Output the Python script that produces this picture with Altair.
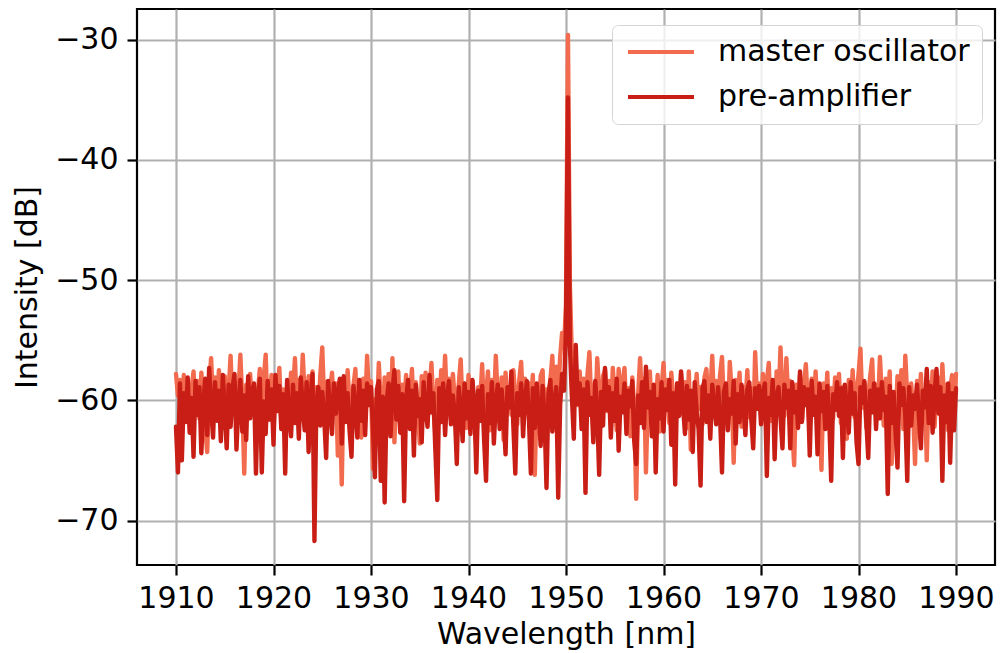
import altair as alt
import pandas as pd

# ---- data (0.2 nm sampling from 1910 to 1990 nm) ----
START_NM = 1910.0
STEP_NM = 0.2

master_oscillator = [
    -57.8, -59.6, -58.3, -61.2, -57.9, -60.4, -58.6, -62.1, -59.0, -57.6, -60.8, -58.4, -61.5, -57.7, -59.9, -62.4, -64.3, -58.8, -56.5, -60.2,
    -58.1, -61.0, -57.5, -59.7, -62.3, -58.0, -60.6, -59.2, -56.3, -60.9, -58.5, -61.8, -59.4, -56.2, -60.1, -66.1, -58.7, -61.4, -57.8, -60.3,
    -58.9, -62.0, -59.3, -57.4, -60.7, -58.2, -56.2, -61.3, -59.8, -57.9, -62.6, -58.6, -60.2, -57.3, -61.7, -59.1, -63.0, -58.4, -60.5, -57.7,
    -59.5, -56.5, -61.1, -58.3, -60.4, -56.2, -59.7, -62.2, -58.0, -60.8, -57.6, -63.4, -58.9, -61.2, -57.9, -55.6, -60.3, -58.5, -62.0, -59.2,
    -57.7, -60.9, -58.6, -64.6, -59.4, -67.0, -58.1, -61.5, -57.5, -60.2, -62.8, -58.8, -57.4, -61.6, -59.3, -63.1, -58.2, -60.7, -56.3, -59.8,
    -58.4, -65.7, -59.9, -61.4, -56.9, -60.3, -62.7, -58.1, -60.9, -57.8, -61.9, -56.5, -63.5, -59.0, -57.6, -62.4, -58.7, -60.6, -57.9, -61.3,
    -59.6, -57.4, -62.1, -58.5, -60.8, -63.6, -58.0, -60.4, -57.7, -61.8, -59.2, -56.9, -60.6, -62.9, -58.3, -61.0, -57.5, -59.9, -56.3, -60.7,
    -58.2, -61.6, -57.8, -60.1, -63.2, -58.7, -56.6, -60.9, -59.1, -62.3, -57.9, -60.5, -58.4, -61.7, -64.0, -58.9, -60.2, -57.0, -61.4, -59.5,
    -57.6, -62.5, -58.3, -60.7, -56.3, -59.8, -61.9, -58.1, -63.3, -57.7, -60.4, -58.9, -61.2, -57.5, -59.6, -62.0, -58.4, -56.8, -60.6, -58.2,
    -61.0, -58.6, -60.3, -57.9, -66.2, -59.4, -61.7, -58.0, -57.5, -62.4, -59.1, -60.8, -58.3, -56.3, -61.2, -57.2, -59.6, -56.4, -54.4, -55.6,
    -52.0, -29.6, -50.5, -56.2, -58.9, -56.8, -60.4, -57.6, -61.3, -58.2, -63.1, -57.9, -56.0, -60.6, -58.7, -61.8, -56.5, -59.3, -62.2, -58.0,
    -57.5, -60.9, -58.4, -61.6, -57.3, -59.8, -62.5, -57.4, -60.2, -58.6, -57.3, -61.4, -59.0, -63.0, -58.1, -60.7, -68.2, -59.5, -56.5, -60.3,
    -58.2, -66.0, -59.7, -57.6, -61.5, -58.8, -60.6, -57.9, -62.6, -59.2, -56.9, -60.4, -58.3, -61.9, -57.7, -60.0, -63.5, -58.6, -61.1, -57.8,
    -60.2, -58.5, -62.3, -57.6, -64.1, -59.3, -61.0, -57.8, -60.7, -58.9, -62.0, -58.1, -57.4, -60.5, -59.6, -56.3, -60.9, -58.4, -61.6, -57.9,
    -56.4, -60.6, -58.7, -61.9, -56.8, -59.5, -65.2, -58.3, -60.8, -57.7, -62.2, -58.9, -60.3, -57.5, -61.4, -59.0, -62.7, -56.0, -60.1, -58.6,
    -61.2, -57.8, -60.4, -58.5, -56.9, -61.7, -59.1, -62.6, -57.6, -60.2, -55.6, -59.8, -61.3, -56.5, -60.0, -58.4, -62.1, -65.4, -58.7, -60.5,
    -57.9, -61.6, -58.8, -57.0, -60.3, -62.4, -58.2, -60.9, -57.6, -61.1, -59.4, -65.8, -58.6, -60.7, -57.7, -62.0, -59.0, -61.5, -58.1, -60.4,
    -57.8, -61.9, -58.9, -60.2, -63.2, -58.3, -60.8, -57.5, -61.4, -59.2, -57.9, -55.7, -60.6, -58.5, -62.3, -59.6, -58.0, -56.6, -61.0, -58.7,
    -60.5, -56.4, -59.8, -62.1, -58.2, -60.9, -57.6, -65.3, -59.4, -61.6, -58.0, -60.3, -57.5, -62.4, -56.3, -59.7, -61.2, -58.6, -60.8, -65.3,
    -58.4, -60.6, -57.8, -61.8, -59.1, -65.0, -58.5, -60.9, -57.6, -62.2, -59.3, -58.1, -61.0, -57.0, -60.4, -58.7, -62.5, -59.0, -57.9, -60.7,
    -57.8,
]

pre_amplifier = [
    -62.2, -66.0, -58.6, -65.0, -59.4, -61.8, -58.1, -62.7, -59.8, -64.7, -58.4, -61.2, -58.9, -64.4, -60.3, -58.2, -62.9, -57.3, -60.6, -63.1,
    -58.5, -61.7, -59.2, -63.4, -57.9, -60.8, -64.0, -58.7, -62.2, -59.0, -57.8, -64.1, -60.4, -58.3, -62.6, -59.6, -63.3, -58.0, -61.5, -59.3,
    -58.6, -66.1, -59.7, -58.2, -66.0, -60.1, -62.8, -58.4, -61.6, -59.1, -63.7, -57.9, -60.9, -58.8, -62.4, -59.5, -66.1, -58.3, -61.3, -63.0,
    -58.7, -61.9, -59.4, -63.2, -58.1, -60.6, -62.5, -58.5, -64.3, -59.8, -57.8, -71.7, -60.2, -58.9, -62.1, -59.3, -61.4, -64.8, -58.4, -60.7,
    -62.8, -58.6, -61.1, -59.5, -58.2, -63.6, -58.0, -61.8, -59.4, -62.5, -64.7, -58.8, -60.5, -63.1, -58.3, -61.7, -59.2, -62.9, -58.6, -60.4,
    -58.9, -62.3, -66.4, -59.1, -58.4, -66.7, -59.7, -68.5, -60.2, -58.6, -63.0, -59.3, -57.5, -61.6, -58.8, -62.7, -59.5, -68.4, -60.0, -58.3,
    -62.4, -59.2, -64.6, -58.7, -61.3, -59.9, -63.5, -58.5, -60.8, -62.2, -57.9, -61.0, -59.4, -64.1, -68.3, -59.0, -61.8, -58.6, -62.9, -59.7,
    -58.4, -62.0, -59.6, -61.2, -65.3, -58.9, -60.7, -63.4, -58.6, -61.5, -59.3, -62.8, -58.3, -60.1, -66.0, -59.2, -61.7, -58.8, -63.3, -66.7,
    -59.5, -61.9, -58.5, -63.6, -60.2, -58.7, -62.4, -59.1, -61.3, -64.5, -58.9, -60.6, -57.6, -62.1, -66.1, -59.4, -61.2, -58.6, -63.0, -59.8,
    -58.4, -61.6, -66.1, -59.0, -62.3, -58.6, -60.9, -63.8, -58.8, -61.4, -67.3, -59.5, -58.3, -62.6, -60.1, -58.9, -68.1, -60.4, -57.8, -59.2,
    -54.0, -34.8, -55.5, -59.6, -63.2, -55.4, -60.3, -58.6, -62.4, -59.1, -67.7, -58.5, -61.2, -59.8, -63.5, -58.4, -61.0, -66.2, -59.3, -62.1,
    -57.3, -60.8, -58.9, -63.1, -59.4, -61.7, -58.2, -64.2, -59.7, -61.0, -58.6, -62.8, -59.2, -60.5, -58.4, -63.4, -65.3, -59.6, -61.9, -58.5,
    -62.3, -57.2, -60.6, -59.3, -63.0, -58.7, -66.0, -59.9, -61.5, -58.5, -62.6, -59.1, -60.8, -58.3, -63.7, -59.4, -67.0, -58.6, -61.3, -57.6,
    -60.4, -62.8, -58.8, -61.6, -59.2, -64.3, -58.5, -60.9, -62.4, -67.1, -59.0, -58.4, -61.8, -59.6, -63.2, -58.7, -60.5, -62.0, -58.9, -61.3,
    -66.0, -59.3, -58.6, -62.5, -59.9, -61.1, -58.4, -63.6, -59.5, -61.8, -58.7, -60.4, -62.9, -59.1, -58.5, -61.5, -64.0, -59.0, -60.7, -58.8,
    -62.0, -59.4, -58.6, -66.3, -59.8, -61.2, -58.3, -64.9, -59.6, -58.9, -61.4, -64.0, -58.7, -60.6, -59.2, -64.0, -58.5, -61.0, -59.3, -62.3,
    -57.6, -61.8, -58.9, -60.4, -59.1, -64.6, -58.4, -61.2, -59.7, -64.5, -58.6, -60.9, -59.3, -62.4, -58.8, -61.6, -66.7, -59.5, -60.8, -58.5,
    -61.3, -59.0, -64.8, -58.7, -60.6, -62.7, -58.5, -61.1, -59.4, -63.5, -65.3, -58.9, -60.2, -58.4, -61.7, -64.8, -59.2, -61.0, -58.6, -62.4,
    -59.1, -61.5, -58.5, -60.8, -59.7, -67.8, -58.8, -61.9, -59.3, -62.6, -65.6, -58.6, -60.4, -59.0, -61.3, -66.7, -58.9, -62.1, -59.6, -60.7,
    -58.7, -61.4, -64.0, -59.2, -60.6, -57.4, -61.9, -58.8, -62.7, -59.5, -57.4, -61.1, -58.9, -66.7, -59.6, -61.8, -58.6, -65.2, -59.4, -62.5,
    -59.0,
]

series_names = ["master oscillator", "pre-amplifier"]
series_colors = ["#F26B4E", "#C81E15"]
x_ticks = [1910, 1920, 1930, 1940, 1950, 1960, 1970, 1980, 1990]
y_ticks = [-70, -60, -50, -40, -30]
x_domain = [1906, 1994]
y_domain = [-73.7, -27.45]


def wavelengths(n):
    return [round(START_NM + STEP_NM * i, 1) for i in range(n)]


df = pd.concat(
    [
        pd.DataFrame({"Wavelength": wavelengths(len(master_oscillator)),
                      "Intensity": master_oscillator,
                      "Series": series_names[0]}),
        pd.DataFrame({"Wavelength": wavelengths(len(pre_amplifier)),
                      "Intensity": pre_amplifier,
                      "Series": series_names[1]}),
    ],
    ignore_index=True,
)

x_enc = alt.X("Wavelength:Q", title="Wavelength [nm]",
              scale=alt.Scale(domain=x_domain, nice=False, zero=False),
              axis=alt.Axis(values=x_ticks, format="d", labelFlush=False))
y_enc = alt.Y("Intensity:Q", title="Intensity [dB]",
              scale=alt.Scale(domain=y_domain, nice=False, zero=False),
              axis=alt.Axis(values=y_ticks, format="d", labelFlush=False))
color_enc = alt.Color(
    "Series:N",
    scale=alt.Scale(domain=series_names, range=series_colors),
    legend=alt.Legend(
        title=None, orient="none", legendX=475, legendY=16,
        symbolType="M-1,0H5", symbolSize=484, symbolStrokeWidth=4.2,
        labelOffset=64, rowPadding=15, padding=12, labelLimit=600,
        labelFont="DejaVu Sans", labelFontSize=30, labelColor="black",
        fillColor="rgba(255,255,255,0.8)", strokeColor="#d4d4d4",
        cornerRadius=6,
    ),
)

base = alt.Chart(df).mark_line(strokeWidth=4.4, strokeJoin="round", strokeCap="round").encode(
    x=x_enc, y=y_enc, color=color_enc
)

layer_master = base.transform_filter(alt.datum.Series == series_names[0])
layer_pre = base.transform_filter(alt.datum.Series == series_names[1])

chart = (
    alt.layer(layer_master, layer_pre)
    .properties(
        width=858, height=556,
        padding={"left": 137, "top": 9, "right": 5, "bottom": 88},
        autosize=alt.AutoSizeParams(type="none"),
        background="white",
    )
    .configure_view(stroke="black", strokeWidth=2.2)
    .configure_axis(
        domain=False,
        grid=True, gridColor="#b0b0b0", gridWidth=2.2,
        ticks=True, tickColor="black", tickWidth=2.2, tickSize=10,
        labelFont="DejaVu Sans", labelFontSize=30, labelColor="black",
        titleFont="DejaVu Sans", titleFontSize=30, titleFontWeight="normal",
        titleColor="black", labelOverlap=False,
    )
    .configure_axisX(labelPadding=8, titlePadding=6)
    .configure_axisY(labelPadding=9, titlePadding=12)
)

chart.save("out.html", embed_options={"renderer": "svg", "actions": False})
